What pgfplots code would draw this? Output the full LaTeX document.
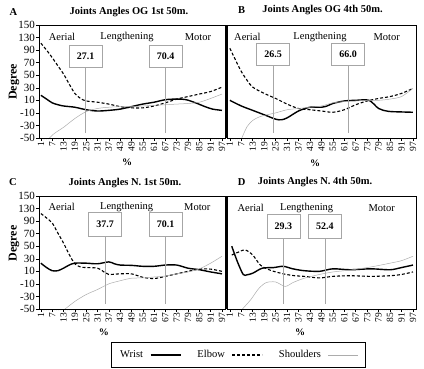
\documentclass[border=0pt]{standalone}
\usepackage{fontspec}
\setmainfont{Liberation Serif}
\usepackage{pgfplots}
\pgfplotsset{compat=1.18}

\pgfplotsset{
 panel/.style={
  scale only axis, anchor=south west,
  ymin=-50, ymax=130,
  ytick={-50,-30,...,130},
  yticklabels={-50,-30,-10,10,30,50,70,90,130,150},
  xtick={1,7,...,97},
  minor x tick num=5,
  xtick pos=bottom, ytick pos=left,
  tick align=outside,
  major tick length=3pt, minor tick length=1.5pt,
  xticklabel style={rotate=90, anchor=east, font=\fontsize{9.5}{10}\selectfont, inner sep=1pt},
  yticklabel style={font=\fontsize{11}{11}\selectfont, inner sep=1pt},
  /pgf/number format/assume math mode=true,
  axis line style={line width=0.6pt},
  tick style={black, line width=0.5pt},
  clip mode=individual,
 },
 panelA/.style={panel, width=186pt, height=113pt, xmin=0, xmax=98.6},
 panelB/.style={panel, width=189pt, height=113pt, xmin=-0.5, xmax=98.6, ytick=\empty},
 wrist/.style={black, line width=1.4pt, smooth, tension=0.5, mark=none},
 elbow/.style={black, line width=1.1pt, dash pattern=on 3pt off 2pt, smooth, tension=0.5, mark=none},
 shoulder/.style={gray!65, line width=0.5pt, smooth, tension=0.5, mark=none},
}

\newcommand{\phaseline}[4]{%
  \draw[gray!70, line width=0.6pt] (axis cs:#1,-42) -- (axis cs:#1,#2);
  \node[draw=gray!70, fill=white, line width=0.5pt, minimum width=33pt, minimum height=#4, inner sep=0pt,
        font=\bfseries\fontsize{10}{10}\selectfont] at (axis cs:#1,#2) {#3};}

\begin{document}
\begin{tikzpicture}
\path (0,0) rectangle (424pt,369pt);

% ---------- A ----------
\begin{axis}[panelA, at={(39pt,231pt)}]
\addplot[wrist] coordinates {(1,18) (4,12) (7,6) (10,3) (13,1) (19,-1) (25,-5) (31,-7) (37,-6) (43,-4) (49,0) (55,4) (61,7) (67,11) (73,12) (78,11) (83,6) (88,0) (92,-4) (97,-6)};
\addplot[elbow] coordinates {(1,101) (4,90) (7,78) (10,65) (13,52) (16,36) (19,21) (22,13) (25,9) (31,7) (37,4) (43,0) (49,-2) (55,-2) (61,1) (67,6) (73,12) (79,16) (85,20) (91,24) (97,31)};
\addplot[shoulder] coordinates {(5,-52) (8,-43) (13,-33) (19,-19) (25,-8) (31,-3) (37,-1) (43,0) (49,0) (55,1) (61,2) (67,3) (73,4) (79,5) (85,7) (91,13) (97,20)};
\phaseline{24.7}{80.6}{27.1}{22pt}
\phaseline{67.1}{80.6}{70.4}{22pt}
\end{axis}

% ---------- B ----------
\begin{axis}[panelB, at={(227pt,231pt)}]
\addplot[wrist] coordinates {(1,10) (7,1) (13,-6) (19,-13) (25,-20) (28,-21) (31,-18) (37,-7) (43,-1) (49,-1) (52,1) (55,5) (61,9) (67,10) (74,10) (79,-3) (84,-7.5) (91,-8.5) (97,-9)};
\addplot[elbow] coordinates {(1,93) (4,74) (7,56) (10,42) (13,31) (19,21) (25,13) (31,4) (37,-3) (43,-5) (49,-7) (55,-9) (61,-5) (67,3) (73,9) (79,13) (85,16) (91,21) (97,29)};
\addplot[shoulder] coordinates {(7,-52) (10,-32) (13,-22) (16,-17) (19,-14) (25,-10) (31,-5) (37,-3) (43,-1) (49,1) (55,6) (61,8) (67,9) (73,10) (79,10) (85,12) (91,16) (97,29)};
\phaseline{23.7}{84}{26.5}{22pt}
\phaseline{63.0}{84}{66.0}{22pt}
\draw[line width=2pt] (rel axis cs:0,0) -- (rel axis cs:0,1);
\end{axis}

% ---------- C ----------
\begin{axis}[panelA, at={(39pt,60pt)},
  legend style={at={(1.0715,-0.407)}, anchor=center, legend columns=3, draw=black, line width=0.6pt,
     font=\fontsize{10.5}{12}\selectfont,
     /tikz/every odd column/.append style={column sep=5pt},
     /tikz/every even column/.append style={column sep=14pt},
     inner xsep=7pt, inner ysep=6pt},
  legend plot pos=right,
  legend image code/.code={\draw[#1] (0pt,0pt) -- (30pt,0pt);}]
\addplot[wrist] coordinates {(1,23) (4,16) (7,11) (10,11) (13,15) (16,20) (19,23) (25,23) (31,22) (37,25) (40,22) (43,20) (49,19.5) (55,18) (61,18) (67,20) (73,20) (79,15) (85,12.6) (91,9) (97,6)};
\addplot[elbow] coordinates {(1,102) (4,95) (7,87) (10,71) (13,55) (16,37) (19,22) (22,17) (25,16) (31,15) (35,8) (37,5) (43,6) (49,6) (55,0.5) (61,-1.5) (67,2) (73,6) (79,10) (85,13.5) (91,13.5) (97,10)};
\addplot[shoulder] coordinates {(13,-52) (19,-38) (25,-27) (31,-19) (37,-10) (43,-5) (49,-1) (55,-0.5) (61,1) (67,2.5) (73,6) (79,9) (85,14) (91,23) (97,34)};
\legend{Wrist, Elbow, Shoulders}
\phaseline{35.0}{85}{37.7}{24pt}
\phaseline{67.1}{85}{70.1}{24pt}
\end{axis}

% ---------- D ----------
\begin{axis}[panelB, at={(227pt,60pt)}]
\addplot[wrist] coordinates {(2,50) (5,25) (8,5) (10,4.5) (13,7) (18,15) (24,16) (29,18) (34,14) (40,11) (48,10) (55,14) (64,12.5) (75,14) (85,12.5) (91,16) (97,20)};
\addplot[elbow] coordinates {(2,36) (5,40) (9,44) (13,36) (17,20) (22,12) (29,6) (35,3) (40,2) (48,-0.5) (55,2) (64,3) (75,2) (85,3) (91,5) (97,9)};
\addplot[shoulder] coordinates {(7,-52) (12,-35) (16,-18) (20,-8) (25,-7) (30,-14) (34,-8) (40,-1) (48,5) (55,9) (64,12) (75,17) (85,23) (91,27) (97,34)};
\phaseline{29.0}{81.7}{29.3}{24pt}
\phaseline{50.8}{81.7}{52.4}{24pt}
\draw[line width=2pt] (rel axis cs:0,0) -- (rel axis cs:0,1);
\end{axis}

% ---------- texts ----------
\begin{scope}[every node/.style={font=\bfseries\fontsize{10.5}{12}\selectfont}]
\node at (13.3pt,357.3pt) {A};
\node at (129pt,357.3pt) {Joints Angles OG 1st 50m.};
\node at (241.7pt,359pt) {B};
\node at (322.5pt,359pt) {Joints Angles OG 4th 50m.};
\node at (13pt,187pt) {C};
\node at (125pt,186pt) {Joints Angles N. 1st 50m.};
\node at (241.7pt,187.3pt) {D};
\node at (315pt,187.3pt) {Joints Angles N. 4th 50m.};
\end{scope}

\begin{scope}[every node/.style={font=\fontsize{10.5}{12}\selectfont}]
\node at (62pt,332pt) {Aerial};
\node at (127pt,332pt) {Lengthening};
\node at (198pt,332pt) {Motor};
\node at (247.3pt,332.3pt) {Aerial};
\node at (320pt,332.3pt) {Lengthening};
\node at (386.7pt,332.3pt) {Motor};
\node at (61.7pt,162.3pt) {Aerial};
\node at (126.7pt,162.3pt) {Lengthening};
\node at (197.3pt,162.3pt) {Motor};
\node at (250.7pt,160.7pt) {Aerial};
\node at (306.7pt,160.7pt) {Lengthening};
\node at (381.7pt,160.7pt) {Motor};
\end{scope}

\node[rotate=90, font=\bfseries\fontsize{12}{12}\selectfont] at (14pt,287pt) {Degree};
\node[rotate=90, font=\bfseries\fontsize{12}{12}\selectfont] at (14pt,125.7pt) {Degree};
\begin{scope}[every node/.style={font=\bfseries\fontsize{10}{12}\selectfont}]
\node at (127pt,207pt) {\%};
\node at (315pt,206pt) {\%};
\node at (104pt,37pt) {\%};
\node at (300pt,37pt) {\%};
\end{scope}
\end{tikzpicture}
\end{document}
